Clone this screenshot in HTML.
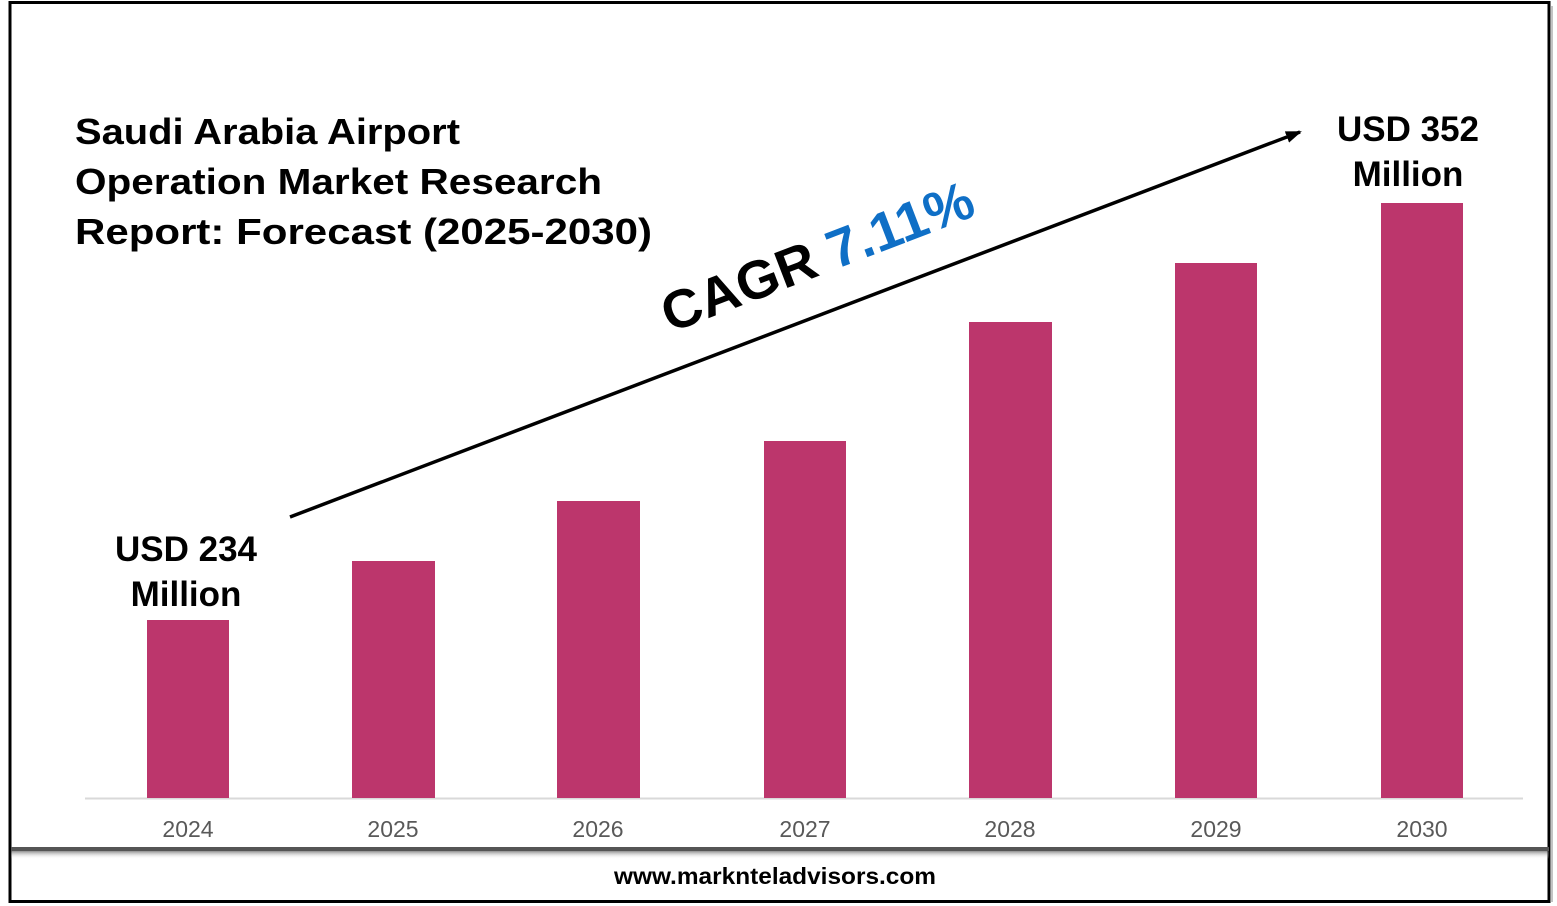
<!DOCTYPE html>
<html><head><style>
body{margin:0;background:#fff;}
svg{display:block;font-family:"Liberation Sans",sans-serif;}
</style></head><body>
<svg width="1557" height="906" viewBox="0 0 1557 906">
<defs>
<linearGradient id="sh" x1="0" y1="0" x2="0" y2="1">
<stop offset="0" stop-color="#444"/><stop offset="1" stop-color="#fff" stop-opacity="0"/>
</linearGradient>
<marker id="ar" markerWidth="16" markerHeight="12" refX="14" refY="6" orient="auto" markerUnits="userSpaceOnUse">
<path d="M0,0 L16,6 L0,12 z" fill="#000"/>
</marker>
</defs>
<rect x="10" y="2.5" width="1539" height="899" fill="#fff" stroke="#000" stroke-width="3"/>
<rect x="1550" y="6" width="3" height="896" fill="#888" opacity="0.5"/>
<rect x="11" y="847" width="1538" height="4" fill="#555"/>
<rect x="11" y="851" width="1538" height="8" fill="url(#sh)" opacity="0.6"/>
<line x1="85" y1="798.5" x2="1523" y2="798.5" stroke="#d9d9d9" stroke-width="2"/>
<g fill="#bc366c">
<rect x="147" y="620" width="82" height="178"/>
<rect x="352" y="561" width="83" height="237"/>
<rect x="557" y="501" width="83" height="297"/>
<rect x="764" y="441" width="82" height="357"/>
<rect x="969" y="322" width="83" height="476"/>
<rect x="1175" y="263" width="82" height="535"/>
<rect x="1381" y="203" width="82" height="595"/>
</g>
<g fill="#595959" font-size="23" text-anchor="middle">
<text x="188" y="837">2024</text><text x="393" y="837">2025</text><text x="598" y="837">2026</text>
<text x="805" y="837">2027</text><text x="1010" y="837">2028</text><text x="1216" y="837">2029</text><text x="1422" y="837">2030</text>
</g>
<line x1="290" y1="517" x2="1300" y2="132" stroke="#000" stroke-width="3.5" marker-end="url(#ar)"/>
<g font-weight="bold" font-size="36" fill="#000" lengthAdjust="spacingAndGlyphs">
<text x="75" y="144" textLength="385" lengthAdjust="spacingAndGlyphs">Saudi Arabia Airport</text>
<text x="75" y="194" textLength="527" lengthAdjust="spacingAndGlyphs">Operation Market Research</text>
<text x="75" y="244" textLength="577" lengthAdjust="spacingAndGlyphs">Report: Forecast (2025-2030)</text>
</g>
<g font-weight="bold" font-size="35" fill="#000" text-anchor="middle">
<text x="186" y="561">USD 234</text><text x="186" y="606">Million</text>
<text x="1408" y="141">USD 352</text><text x="1408" y="186">Million</text>
</g>
<text transform="translate(670,333) rotate(-21)" font-size="54" font-weight="bold" fill="#000" textLength="330" lengthAdjust="spacingAndGlyphs">CAGR <tspan fill="#0f6fc6">7.11%</tspan></text>
<text x="775" y="884" text-anchor="middle" font-size="23" font-weight="bold" fill="#000" textLength="322" lengthAdjust="spacingAndGlyphs">www.marknteladvisors.com</text>
</svg>
</body></html>
